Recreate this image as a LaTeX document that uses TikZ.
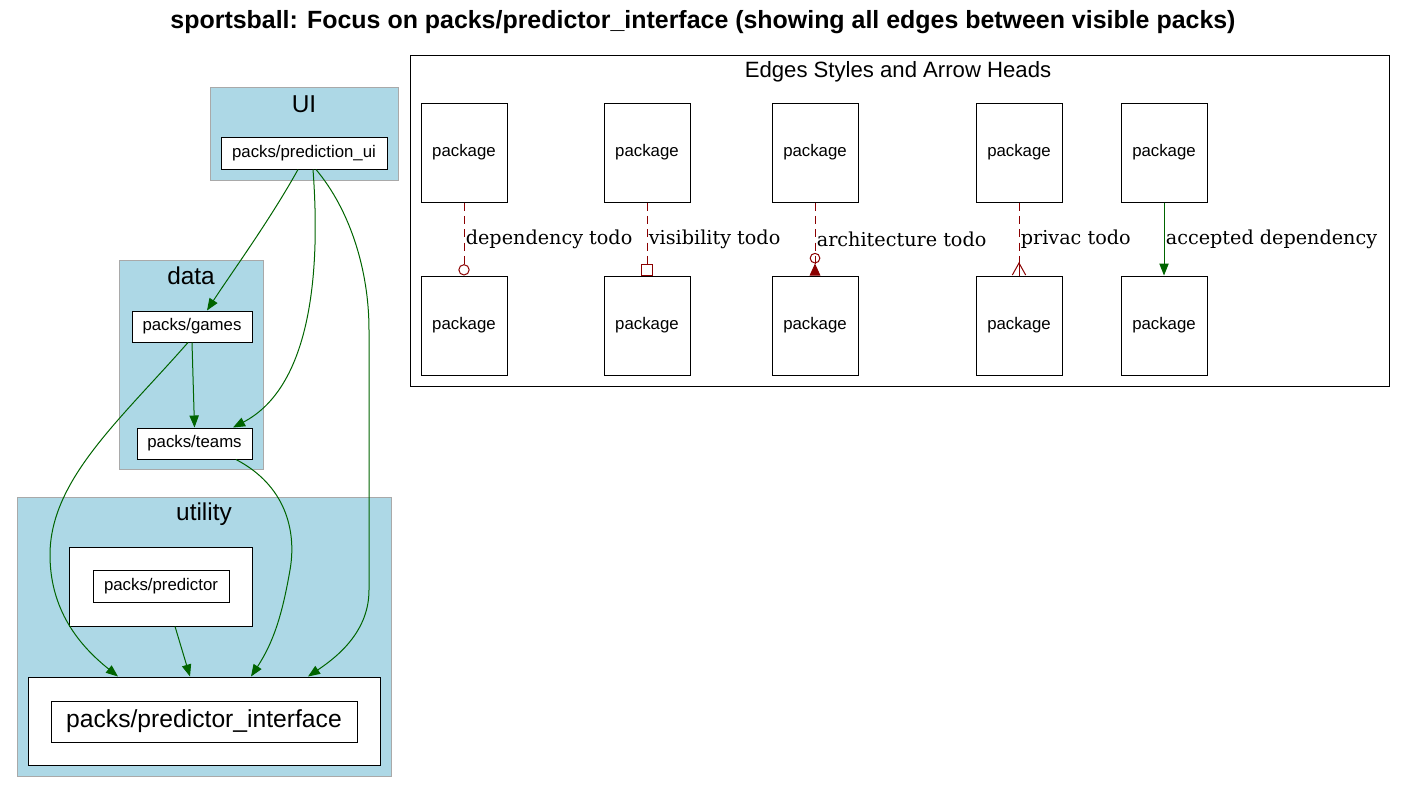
\documentclass[tikz,border=0pt]{standalone}
\usepackage{fontspec}
\setmainfont{Liberation Sans}
\newfontfamily\edgefont{DejaVu Serif}
\usetikzlibrary{arrows.meta}
\definecolor{depgreen}{HTML}{006400}
\definecolor{tododred}{HTML}{8B0000}
\definecolor{clusterblue}{HTML}{ADD8E6}
\definecolor{clusterline}{HTML}{A9A9A9}
\tikzset{cluster/.style 2 args={draw=clusterline, fill=clusterblue, minimum width=#1*0.75pt, minimum height=#2*0.75pt, inner sep=0pt}}
\tikzset{pkg/.style 2 args={draw, fill=white, minimum width=#1*0.75pt, minimum height=#2*0.75pt, inner sep=0pt, font=\fontsize{12.6}{14}\selectfont}}
\tikzset{clusterlabel/.style={font=\fontsize{18.3}{20}\selectfont, inner sep=0pt}}
\tikzset{dep/.style={depgreen, -{Triangle[length=9pt,width=7pt]}}}
\tikzset{todo/.style={tododred, dash pattern=on 6pt off 4pt}}
\tikzset{edgelabel/.style={right, inner sep=1pt, text=black, font=\edgefont\fontsize{14.4}{16}\selectfont}}

\begin{document}
\begin{tikzpicture}[x=0.75pt, y=-0.75pt, line width=0.75pt]
    \useasboundingbox (0,0) rectangle (1406,794);
    \node[font=\bfseries\fontsize{18.7}{21}\selectfont] (title) at (703,22) {sportsball: Focus on packs/predictor\_interface (showing all edges between visible packs)};
    \node[cluster={188}{93}] (ui) at (304,133.5) {};
    \node[clusterlabel] (uilabel) at (304,104) {UI};
    \node[cluster={144}{209}] (data) at (191,364.5) {};
    \node[clusterlabel] (datalabel) at (191,276) {data};
    \node[cluster={374}{279}] (utility) at (204,636.5) {};
    \node[clusterlabel] (utilitylabel) at (204,514) {utility};
    \node[pkg={166}{32}] (predui) at (304,153) {packs/prediction\_ui};
    \node[pkg={120}{31}] (games) at (192,326.5) {packs/games};
    \node[pkg={115}{31}] (teams) at (194.5,443.5) {packs/teams};
    \node[pkg={183}{79}] (predouter) at (160.5,586.5) {};
    \node[pkg={136}{32}] (predictor) at (161,586) {packs/predictor};
    \node[pkg={352}{88}] (ifouter) at (204,721) {};
    \node[pkg={306}{41}, font=\fontsize{18.5}{20}\selectfont] (iface) at (204,721.5) {packs/predictor\_interface};
    \draw[dep] ([xshift=-4.5pt]predui.south) .. controls (270,220) and (230,275) .. ([xshift=11.25pt]games.north);
    \draw[dep] ([xshift=6.75pt]predui.south) .. controls (322,290) and (305,390) .. ([xshift=28.9pt]teams.north);
    \draw[dep] ([xshift=9pt]predui.south) .. controls (350,210) and (369,270) .. (369,330) -- (369,590) .. controls (369,630) and (340,655) .. ([xshift=78pt]ifouter.north);
    \draw[dep] ([xshift=-3pt]games.south) .. controls (120,420) and (50,480) .. (50,555) .. controls (50,615) and (85,650) .. ([xshift=-64.5pt]ifouter.north);
    \draw[dep] (games.south) -- (teams.north);
    \draw[dep] ([xshift=31.1pt]teams.south) .. controls (285,485) and (297,530) .. (290,570) .. controls (283,610) and (275,640) .. ([xshift=35.25pt]ifouter.north);
    \draw[dep] ([xshift=10.9pt]predouter.south) -- ([xshift=-10.5pt]ifouter.north);
    \node[draw, minimum width=979*0.75pt, minimum height=331*0.75pt, inner sep=0pt] (legend) at (899.5,220.5) {};
    \node[font=\fontsize{16.6}{18}\selectfont, inner sep=0pt] (legendlabel) at (898,72) {Edges Styles and Arrow Heads};
    \foreach \col/\x in {a/464, b/647, c/815, d/1019, e/1164} {
      \node[pkg={86}{99}] (\col top) at (\x,152.5) {package};
      \node[pkg={86}{99}] (\col bottom) at (\x,325.5) {package};
    }
    \draw[todo, -{Circle[open,length=8.5pt,width=8.5pt]}] (atop) -- node[edgelabel] {dependency todo} (abottom);
    \draw[todo, -{Square[open,length=9pt,width=9pt]}] (btop) -- node[edgelabel] {visibility todo} (bbottom);
    \draw[todo, -{Circle[open,length=8pt,width=8pt] Triangle[reversed,length=9pt,width=8pt]}] (ctop) -- node[edgelabel] {architecture todo} (cbottom);
    \draw[todo, -{Straight Barb[reversed,length=9pt,width=10pt]}] (dtop) -- node[edgelabel] {privac todo} (dbottom);
    \draw[tododred] (dbottom.north) -- ++(0,-13);
    \draw[dep] (etop) -- node[edgelabel] {accepted dependency} (ebottom);
\end{tikzpicture}
\end{document}
